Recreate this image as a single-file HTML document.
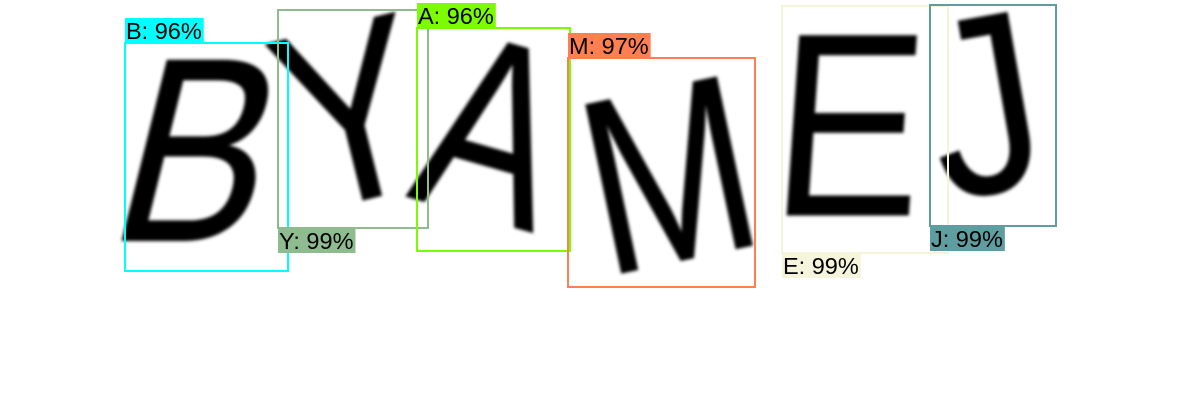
<!DOCTYPE html>
<html>
<head>
<meta charset="utf-8">
<style>
  html, body { margin: 0; padding: 0; background: #fff; }
  body { width: 1200px; height: 420px; overflow: hidden; }
  svg { display: block; }
  .glyph { font-family: "Liberation Sans", sans-serif; fill: #000; }
  .lbl { font-family: "Liberation Sans", sans-serif; font-size: 23.5px; fill: #000; }
</style>
</head>
<body>
<svg id="chart" width="1200" height="420" viewBox="0 0 1200 420" xmlns="http://www.w3.org/2000/svg">
  <defs>
    <filter id="soft" x="-10%" y="-10%" width="120%" height="120%">
      <feGaussianBlur stdDeviation="1.6"/>
    </filter>
  </defs>
  <g id="letters" filter="url(#soft)"></g>
  <g id="boxes"></g>
</svg>
<script>
// Detection data
const labels = ["B", "Y", "A", "M", "E", "J"];
const scores = [96, 99, 96, 97, 99, 99];
const boxX0 = [125, 278, 417, 568, 782, 930];
const boxY0 = [43, 10, 28, 58, 6, 5];
const boxX1 = [288, 428, 570, 755, 948, 1056];
const boxY1 = [271, 228, 251, 287, 253, 226];
const labelAbove = [true, false, true, true, false, false];
const colors = ["#00ffff", "#8fbc8f", "#7cfc00", "#ff7f50", "#f5f5dc", "#5f9ea0"];

// Rendering styles for captcha glyphs (presentation only)
const glyphStyle = [
  { cx: 202, cy: 145, rot: 0,   skew: -14, sx: 0.85, fs: 262, sw: 1 },
  { cx: 350, cy: 108, rot: -14, skew: 0,   sx: 0.85, fs: 255, sw: 0 },
  { cx: 495, cy: 125, rot: 16,  skew: 0,   sx: 0.78, fs: 255, sw: 1 },
  { cx: 668, cy: 170, rot: -12, skew: 0,   sx: 0.80, fs: 250, sw: 1 },
  { cx: 850, cy: 120, rot: 0,   skew: -4,  sx: 0.86, fs: 262, sw: 0 },
  { cx: 983, cy: 100, rot: -10, skew: 0,   sx: 0.88, fs: 255, sw: 0 }
];

const NS = "http://www.w3.org/2000/svg";
const gL = document.getElementById("letters");
const gB = document.getElementById("boxes");

labels.forEach((ch, i) => {
  const s = glyphStyle[i];
  const g = document.createElementNS(NS, "g");
  g.setAttribute("transform", `translate(${s.cx},${s.cy}) rotate(${s.rot}) skewX(${s.skew}) scale(${s.sx},1)`);
  const t = document.createElementNS(NS, "text");
  t.setAttribute("class", "glyph");
  t.setAttribute("x", 0);
  t.setAttribute("y", s.fs * 0.729 / 2);
  t.setAttribute("text-anchor", "middle");
  t.setAttribute("font-size", s.fs);
  t.setAttribute("stroke", "#000");
  t.setAttribute("stroke-width", s.sw);
  
  
  t.textContent = ch;
  g.appendChild(t);
  gL.appendChild(g);

  const x0 = boxX0[i], y0 = boxY0[i], x1 = boxX1[i], y1 = boxY1[i];
  const r = document.createElementNS(NS, "rect");
  r.setAttribute("x", x0); r.setAttribute("y", y0);
  r.setAttribute("width", x1 - x0); r.setAttribute("height", y1 - y0);
  r.setAttribute("fill", "none");
  r.setAttribute("stroke", colors[i]);
  r.setAttribute("stroke-width", 2);
  
  
  gB.appendChild(r);

  const text = ch + ": " + scores[i] + "%";
  const h = 25;
  const ly = labelAbove[i] ? y0 - h : y1;
  const bg = document.createElementNS(NS, "rect");
  bg.setAttribute("x", x0); bg.setAttribute("y", ly);
  bg.setAttribute("height", h);
  bg.setAttribute("fill", colors[i]);
  
  
  gB.appendChild(bg);

  const lt = document.createElementNS(NS, "text");
  lt.setAttribute("class", "lbl");
  lt.setAttribute("x", x0 + 1);
  lt.setAttribute("y", ly + 21);
  
  
  lt.textContent = text;
  gB.appendChild(lt);
  bg.setAttribute("width", lt.getComputedTextLength() + 3);
});
</script>
</body>
</html>
